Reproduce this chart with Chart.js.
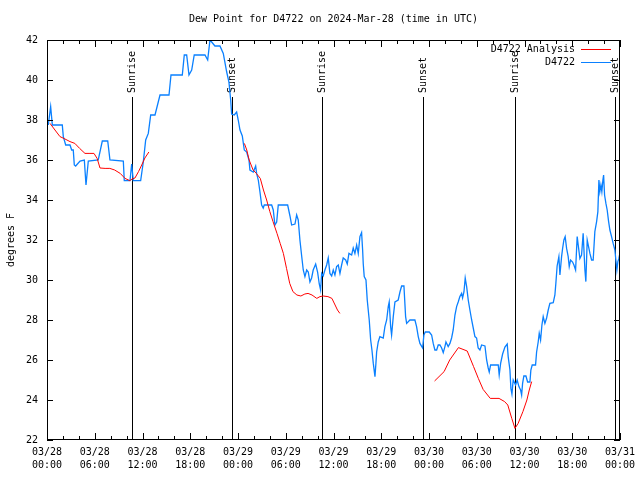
<!DOCTYPE html>
<html>
<head>
<meta charset="utf-8">
<title>Dew Point for D4722</title>
<script src="https://cdn.jsdelivr.net/npm/chart.js@4.4.1/dist/chart.umd.min.js"></script>
<style>
    html, body { margin: 0; padding: 0; background: #fff; }
    canvas { display: block; }
</style>
</head>
<body>
<canvas id="chartDewPoint" width="640" height="480"></canvas>
<script>
/* Dew point D4722 - 2024-Mar-28, hours since 03/28 00:00 UTC */

// --- Datos ---
const xTickDates = ['03/28', '03/28', '03/28', '03/28', '03/29', '03/29', '03/29', '03/29',
                    '03/30', '03/30', '03/30', '03/30', '03/31'];
const xTickTimes = ['00:00', '06:00', '12:00', '18:00', '00:00', '06:00', '12:00', '18:00',
                    '00:00', '06:00', '12:00', '18:00', '00:00'];

const sunHours = [10.68, 23.24, 34.55, 47.24, 58.79, 71.36];
const sunNames = ['Sunrise', 'Sunset', 'Sunrise', 'Sunset', 'Sunrise', 'Sunset'];

const obsHours = [
    0.16, 0.46, 0.67, 1.92, 2.05, 2.35, 2.89, 3.1, 3.3, 3.43, 3.6, 4.15, 4.69, 4.9, 5.19, 6.44,
    6.95, 7.63, 7.91, 9.59, 9.71, 10.43, 10.64, 10.84, 11.77, 12.1, 12.4, 12.73, 13.03, 13.57,
    14.2, 15.33, 15.58, 17.0, 17.25, 17.55, 17.84, 18.18, 18.5, 19.85, 20.19, 20.48, 20.69, 21.1,
    21.73, 22.15, 22.58, 22.86, 23.08, 23.2, 23.53, 23.83, 24.03, 24.25, 24.54, 24.79, 25.09,
    25.38, 25.5, 25.92, 26.22, 26.34, 26.55, 26.76, 26.97, 27.17, 27.3, 28.23, 28.43, 28.64,
    28.86, 29.06, 30.24, 30.53, 30.74, 31.16, 31.37, 31.57, 31.78, 32.0, 32.2, 32.41, 32.63,
    32.83, 33.04, 33.25, 33.45, 33.76, 34.0, 34.21, 34.38, 34.51, 34.71, 34.92, 35.14, 35.34,
    35.55, 35.77, 35.97, 36.18, 36.39, 36.6, 36.81, 37.02, 37.22, 37.53, 37.73, 37.94, 38.28,
    38.48, 38.69, 38.91, 39.11, 39.32, 39.53, 39.66, 39.74, 39.86, 40.08, 40.24, 40.49, 40.67,
    40.83, 41.0, 41.21, 41.33, 41.42, 41.62, 41.83, 42.25, 42.46, 42.68, 42.88, 43.0, 43.18,
    43.3, 43.51, 43.72, 44.13, 44.35, 44.56, 44.85, 45.06, 45.19, 45.6, 46.23, 46.44, 46.65,
    46.86, 47.2, 47.36, 47.53, 48.03, 48.33, 48.53, 48.74, 48.96, 49.16, 49.37, 49.59, 49.79,
    50.0, 50.13, 50.41, 50.63, 50.84, 51.04, 51.26, 51.47, 51.67, 51.88, 52.1, 52.22, 52.39,
    52.55, 52.73, 52.93, 53.14, 53.36, 53.56, 53.77, 53.98, 54.18, 54.4, 54.61, 55.03, 55.24,
    55.44, 55.57, 55.74, 56.7, 56.82, 57.0, 57.25, 57.54, 57.83, 57.95, 58.17, 58.29, 58.42,
    58.58, 58.88, 59.08, 59.3, 59.51, 59.64, 59.76, 59.92, 60.18, 60.39, 60.68, 60.8, 60.97,
    61.39, 61.52, 61.72, 61.85, 62.02, 62.19, 62.35, 62.56, 62.78, 62.98, 63.19, 63.61, 63.82,
    63.94, 64.1, 64.32, 64.45, 64.66, 64.79, 64.95, 65.11, 65.29, 65.49, 65.62, 65.79, 66.04,
    66.21, 66.42, 66.62, 66.75, 66.96, 67.17, 67.37, 67.59, 67.71, 67.88, 68.05, 68.22, 68.43,
    68.63, 68.84, 69.06, 69.22, 69.35, 69.47, 69.6, 69.72, 69.85, 69.94, 70.06, 70.23, 70.39,
    70.57, 70.73, 70.94, 71.14, 71.36, 71.48, 71.61, 71.73, 71.86, 71.94
];
const obsDewpt = [
    37.75, 38.67, 37.75, 37.75, 37.17, 36.75, 36.75, 36.5, 36.5, 35.75, 35.7, 35.95, 36.0, 34.75, 35.95, 36.0,
    36.95, 36.95, 36.0, 35.95, 34.97, 34.97, 35.8, 34.97, 34.97, 35.9, 37.0, 37.33, 38.25, 38.25,
    39.25, 39.25, 40.25, 40.25, 41.25, 41.25, 40.25, 40.5, 41.25, 41.25, 41.0, 42.0, 41.9, 41.7,
    41.7, 41.33, 40.4, 39.9, 39.0, 38.3, 38.25, 38.4, 38.0, 37.5, 37.2, 36.5, 36.4,
    36.0, 35.5, 35.4, 35.7, 35.33, 35.0, 34.4, 33.75, 33.6, 33.75, 33.75, 33.5, 32.75,
    32.9, 33.75, 33.75, 33.2, 32.75, 32.8, 33.25, 33.0, 32.0, 31.2, 30.5, 30.17, 30.5,
    30.4, 29.9, 30.1, 30.5, 30.8, 30.4, 29.8, 29.5, 30.33, 30.2, 30.5, 30.75, 31.1,
    30.33, 30.2, 30.5, 30.25, 30.67, 30.75, 30.33, 30.75, 31.1, 31.0, 30.8, 31.33, 31.25,
    31.6, 31.33, 31.75, 31.33, 32.17, 32.37, 31.5, 30.8, 30.17, 30.0, 29.0, 28.0, 27.0,
    26.5, 25.83, 25.17, 25.83, 26.4, 26.9, 27.17, 27.1, 27.67, 28.0, 28.67, 28.9, 27.67,
    27.25, 28.17, 28.9, 29.0, 29.4, 29.7, 29.7, 28.17, 27.83, 28.0, 28.0, 27.67, 27.17,
    26.83, 26.6, 27.25, 27.4, 27.4, 27.25, 26.83, 26.5, 26.5, 26.75, 26.75, 26.6, 26.37,
    26.67, 26.9, 26.67, 26.83, 27.1, 27.5, 28.25, 28.67, 28.9, 29.17, 29.33, 29.1, 29.4,
    30.1, 29.67, 29.0, 28.5, 28.0, 27.6, 27.17, 27.1, 26.6, 26.5, 26.75, 26.7, 26.0,
    25.6, 25.4, 25.75, 25.75, 25.25, 25.83, 26.3, 26.65, 26.8, 26.17, 25.5, 24.58, 24.3,
    25.0, 24.75, 25.0, 24.67, 24.5, 24.25, 24.83, 25.2, 25.2, 24.9, 24.9, 25.5, 25.75,
    25.75, 26.4, 26.9, 27.33, 27.0, 27.75, 28.17, 27.83, 28.1, 28.5, 28.83, 28.87, 29.25,
    29.83, 30.7, 31.17, 30.25, 31.17, 31.58, 32.0, 32.17, 31.58, 31.17, 30.67, 31.0, 30.9,
    30.75, 30.5, 32.17, 31.75, 31.08, 31.25, 32.33, 30.5, 29.92, 32.0, 31.67, 31.33, 31.0,
    31.0, 32.42, 32.92, 33.42, 35.0, 34.42, 34.75, 34.42, 35.0, 35.25, 34.25, 33.83, 33.5,
    32.92, 32.5, 32.17, 31.83, 31.5, 31.0, 30.5, 30.92, 31.08, 31.25
];

// Analisis: null marca los huecos entre tramos
const anaHours = [
    0.38, 1.0, 1.63, 2.26, 2.89, 3.5, 4.1, 4.77, 5.4, 5.9, 6.3, 6.66, 7.3, 7.9, 8.5, 9.2, 9.8,
    10.4, 10.7, 11.05, 11.5, 11.9, 12.3, 12.8,
    18.0,
    24.8, 25.1, 25.4, 25.9, 26.3, 26.8, 27.2, 27.6, 28.0, 28.4, 28.9, 29.3, 29.7, 30.1, 30.5,
    30.9, 31.4, 31.9, 32.4, 32.8, 33.3, 33.9, 34.3, 34.7, 35.3, 35.8, 36.2, 36.5, 36.8,
    42.0,
    48.7, 49.9, 50.6, 51.7, 52.8, 53.6, 54.2, 54.8, 55.7, 56.8, 57.5, 57.9, 58.4, 58.8, 59.2,
    59.8, 60.3, 60.6, 60.9
];
const anaDewpt = [
    37.83, 37.5, 37.17, 37.05, 36.92, 36.83, 36.58, 36.33, 36.33, 36.33, 36.08, 35.6, 35.58, 35.58, 35.5, 35.33, 35.08,
    34.97, 35.05, 35.1, 35.42, 35.75, 36.1, 36.4,
    null,
    36.83, 36.5, 36.0, 35.5, 35.33, 35.08, 34.5, 34.0, 33.42, 32.92, 32.33, 31.83, 31.33, 30.58, 29.83,
    29.42, 29.25, 29.2, 29.3, 29.33, 29.25, 29.08, 29.17, 29.2, 29.17, 29.08, 28.75, 28.5, 28.33,
    null,
    24.95, 25.42, 26.0, 26.62, 26.45, 25.67, 25.08, 24.53, 24.08, 24.08, 23.92, 23.75, 23.08, 22.58, 22.83,
    23.42, 24.0, 24.5, 24.92
];

const yTicks = [22, 24, 26, 28, 30, 32, 34, 36, 38, 40, 42];

const FONT = '10px "DejaVu Sans Mono", monospace';
const RED = '#ff0000';
const BLUE = '#0a80ff';

function toPoints(xs, ys) {
    return xs.map((x, i) => ({ x: x, y: ys[i] }));
}

// --- Marco estilo gnuplot: borde, ticks hacia adentro, sol, leyenda, titulos ---
const gnuplotFrame = {
    id: 'gnuplotFrame',
    beforeDatasetsDraw(chart) {
        const ctx = chart.ctx;
        const area = chart.chartArea;
        const xs = chart.scales.x;
        ctx.save();
        ctx.font = FONT;
        ctx.fillStyle = '#000';
        ctx.strokeStyle = '#000';
        ctx.lineWidth = 1;
        sunHours.forEach((h, i) => {
            const px = Math.round(xs.getPixelForValue(h)) + 0.5;
            ctx.beginPath();
            ctx.moveTo(px, 97);
            ctx.lineTo(px, area.bottom);
            ctx.stroke();

            ctx.save();
            ctx.translate(px, 93);
            ctx.rotate(-Math.PI / 2);
            ctx.textAlign = 'left';
            ctx.textBaseline = 'middle';
            ctx.fillText(sunNames[i], 0, 0);
            ctx.restore();
        });
        ctx.restore();
    },
    afterDatasetsDraw(chart) {
        const ctx = chart.ctx;
        const area = chart.chartArea;
        const xs = chart.scales.x;
        const ys = chart.scales.y;
        ctx.save();
        ctx.strokeStyle = '#000';
        ctx.lineWidth = 1;

        // borde
        ctx.strokeRect(area.left + 0.5, area.top + 0.5, area.right - area.left - 1, area.bottom - area.top - 1);

        // ticks x (menores cada 2 h, mayores cada 6 h)
        ctx.beginPath();
        xs.ticks.forEach(t => {
            const px = Math.round(xs.getPixelForValue(t.value)) + 0.5;
            const len = t.value % 6 === 0 ? 7 : 4;
            ctx.moveTo(px, area.bottom);
            ctx.lineTo(px, area.bottom - len);
            ctx.moveTo(px, area.top);
            ctx.lineTo(px, area.top + len);
        });
        // ticks y
        yTicks.forEach(v => {
            const py = Math.round(ys.getPixelForValue(v)) + 0.5;
            ctx.moveTo(area.left, py);
            ctx.lineTo(area.left + 6, py);
            ctx.moveTo(area.right, py);
            ctx.lineTo(area.right - 6, py);
        });
        ctx.stroke();

        // leyenda
        ctx.font = FONT;
        ctx.fillStyle = '#000';
        ctx.textAlign = 'right';
        ctx.textBaseline = 'middle';
        const legend = [['D4722 Analysis', RED], ['D4722', BLUE]];
        legend.forEach((item, i) => {
            const ly = 49.5 + i * 13;
            ctx.fillText(item[0], 575, ly);
            ctx.strokeStyle = item[1];
            ctx.beginPath();
            ctx.moveTo(581, ly);
            ctx.lineTo(611, ly);
            ctx.stroke();
        });

        // titulo
        ctx.textAlign = 'center';
        ctx.fillText('Dew Point for D4722 on 2024-Mar-28 (time in UTC)', (area.left + area.right) / 2, 19);

        // etiqueta eje y
        ctx.save();
        ctx.translate(11, (area.top + area.bottom) / 2);
        ctx.rotate(-Math.PI / 2);
        ctx.fillText('degrees F', 0, 0);
        ctx.restore();

        ctx.restore();
    }
};

// --- Grafico ---
Chart.defaults.font.family = '"DejaVu Sans Mono", monospace';
Chart.defaults.font.size = 10;
Chart.defaults.color = '#000';

new Chart(document.getElementById('chartDewPoint'), {
    type: 'line',
    data: {
        datasets: [
            {
                label: 'D4722 Analysis',
                data: toPoints(anaHours, anaDewpt),
                borderColor: RED,
                borderWidth: 1,
                pointRadius: 0,
                spanGaps: false,
                tension: 0
            },
            {
                label: 'D4722',
                data: toPoints(obsHours, obsDewpt),
                borderColor: BLUE,
                borderWidth: 1.3,
                pointRadius: 0,
                tension: 0
            }
        ]
    },
    options: {
        responsive: false,
        animation: false,
        devicePixelRatio: 1,
        layout: { padding: { top: 40, right: 20, bottom: 0, left: 0 } },
        plugins: {
            legend: { display: false },
            tooltip: { enabled: false },
            title: { display: false }
        },
        scales: {
            x: {
                type: 'linear',
                min: 0,
                max: 72,
                grid: { display: false, drawTicks: false },
                border: { display: false },
                ticks: {
                    stepSize: 2,
                    autoSkip: false,
                    maxRotation: 0,
                    padding: 6,
                    font: { size: 10, lineHeight: 1.3 },
                    callback: v => v % 6 === 0 ? [xTickDates[v / 6], xTickTimes[v / 6]] : ''
                },
                afterFit(scale) {
                    scale.height = 40;
                    scale.paddingLeft = 0;
                    scale.paddingRight = 0;
                }
            },
            y: {
                min: 22,
                max: 42,
                grid: { display: false, drawTicks: false },
                border: { display: false },
                afterBuildTicks(scale) {
                    scale.ticks = yTicks.map(v => ({ value: v }));
                },
                ticks: { padding: 9 },
                afterFit(scale) {
                    scale.width = 47;
                    scale.paddingTop = 0;
                    scale.paddingBottom = 0;
                }
            }
        }
    },
    plugins: [gnuplotFrame]
});
</script>
</body>
</html>
